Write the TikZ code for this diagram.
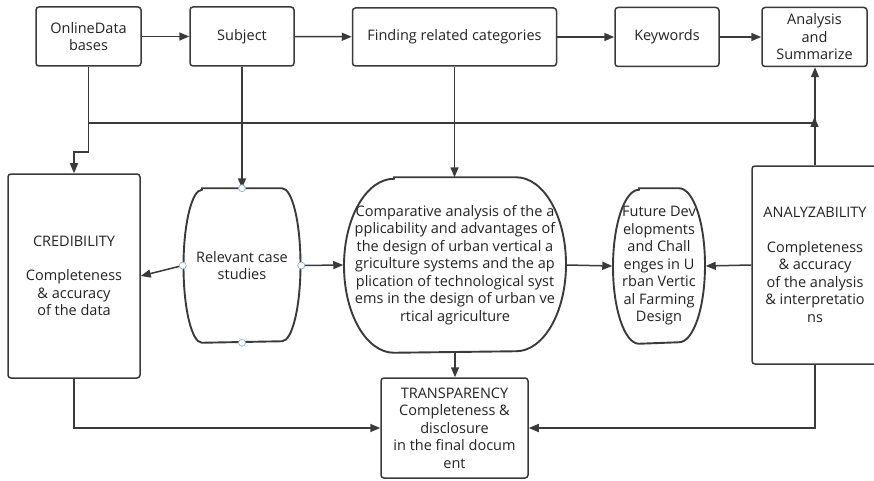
\documentclass[tikz,border=0pt]{standalone}
\usepackage{fontspec}
\setmainfont{Open Sans}
\usetikzlibrary{calc,positioning}
\usetikzlibrary{arrows.meta}

\definecolor{linegray}{HTML}{3A3A3A}
\definecolor{txtgray}{HTML}{222222}
\definecolor{handleblue}{HTML}{8AB0DA}

\tikzset{
  box/.style={rectangle, draw, rounded corners=3pt, line width=1.5pt,
              align=center, inner sep=0pt},
  ovalnode/.style={rectangle, align=center, inner sep=0pt},
  oval/.style={line width=1.9pt},
  handle/.style={circle, draw=handleblue, fill=white, line width=0.7pt,
                 minimum size=7pt, inner sep=0pt},
}

% outline with flat top and bottom and elliptic sides round a node
\newcommand{\flatoval}[4]{%
  \draw[oval] ([xshift=-#2pt]#1.north) -- ([xshift=#2pt]#1.north)
    arc[start angle=90, end angle=-90, x radius=#3pt, y radius=#4pt]
    -- ([xshift=-#2pt]#1.south)
    arc[start angle=270, end angle=90, x radius=#3pt, y radius=#4pt] -- cycle;}

\begin{document}
\begin{tikzpicture}[x=1pt, y=-1pt, color=linegray, text=txtgray,
    line width=1.5pt, >={Triangle[length=10pt,width=8pt]},
    node font=\fontsize{14.5}{17.5}\selectfont]

  \clip (0,0) rectangle (874,481);

  % top row
  \node (OD) at (88.5,36.5) [box, minimum width=105pt, minimum height=59pt]
        {OnlineData\\bases};
  \node (SUB) at (242,36.5) [box, minimum width=104pt, minimum height=59pt]
        {Subject};
  \node (FRC) at (454.5,37) [box, minimum width=204pt, minimum height=58pt]
        {Finding related categories};
  \node (KW) at (667,37) [box, minimum width=104pt, minimum height=59pt]
        {Keywords};
  \node (AS) at (814.5,37) [box, minimum width=105pt, minimum height=59pt]
        {Analysis\\and\\Summarize};

  % middle row
  \node (CRED) at (74,276) [box, minimum width=132pt, minimum height=204pt]
        {CREDIBILITY\\[17pt]Completeness\\\& accuracy\\of the data};
  \node (RCS) at (242,265.5) [ovalnode, minimum width=117pt, minimum height=153pt]
        {Relevant case\\studies};
  \node (CMP) at (455,265) [ovalnode, minimum width=222pt, minimum height=174pt]
        {Comparative analysis of the a\\pplicability and advantages of\\
         the design of urban vertical a\\griculture systems and the ap\\
         plication of technological syst\\ems in the design of urban ve\\
         rtical agriculture};
  \node (FUT) at (659,266) [ovalnode, minimum width=92pt, minimum height=154pt]
        {Future Dev\\elopments\\and Chall\\enges in U\\rban Vertic\\al Farming\\Design};
  \node (ANL) at (815,265) [box, minimum width=126pt, minimum height=198pt]
        {ANALYZABILITY\\[17pt]Completeness\\\& accuracy\\of the analysis\\
         \& interpretatio\\ns};

  % bottom
  \node (TRA) at (454.5,428) [box, minimum width=147pt, minimum height=100pt]
        {TRANSPARENCY\\Completeness \&\\disclosure\\in the final docum\\ent};

  \flatoval{RCS}{40}{18.5}{76.5}
  \flatoval{CMP}{61}{50}{87}
  \flatoval{FUT}{20}{26}{77}

  \coordinate (fork) at (88.5,123);
  \coordinate (jn) at (814.5,117);

  \draw[->] (OD) -- (SUB);
  \draw[->] (SUB) -- (FRC);
  \draw[->] (FRC) -- (KW);
  \draw[->] (KW) -- (AS);

  \draw[->] (OD.south) -- (fork) -| (jn);
  \draw[->] (fork) -- ++(0,29) -| (CRED.north);
  \draw[->] (ANL.north) -- (ANL.north |- AS.south);

  \draw[->] (SUB.south) -- (RCS.north);
  \draw[->] (FRC.south) -- (FRC.south |- CMP.north);
  \draw[->] (RCS.west) -- (CRED.east);
  \draw[->] (RCS.east) -- (CMP.west);
  \draw[->] (CMP.east) -- (FUT.west);
  \draw[->] (ANL.west) -- (FUT.east);

  \draw[->] (CMP.south) -- (CMP.south |- TRA.north);
  \draw[->] (CRED.south) |- (TRA.west);
  \draw[->] (ANL.south) |- (TRA.east);

  \node (h1) at (RCS.north) [handle] {};
  \node (h2) at (RCS.west) [handle] {};
  \node (h3) at (RCS.east) [handle] {};
  \node (h4) at (RCS.south) [handle] {};

\end{tikzpicture}
\end{document}
